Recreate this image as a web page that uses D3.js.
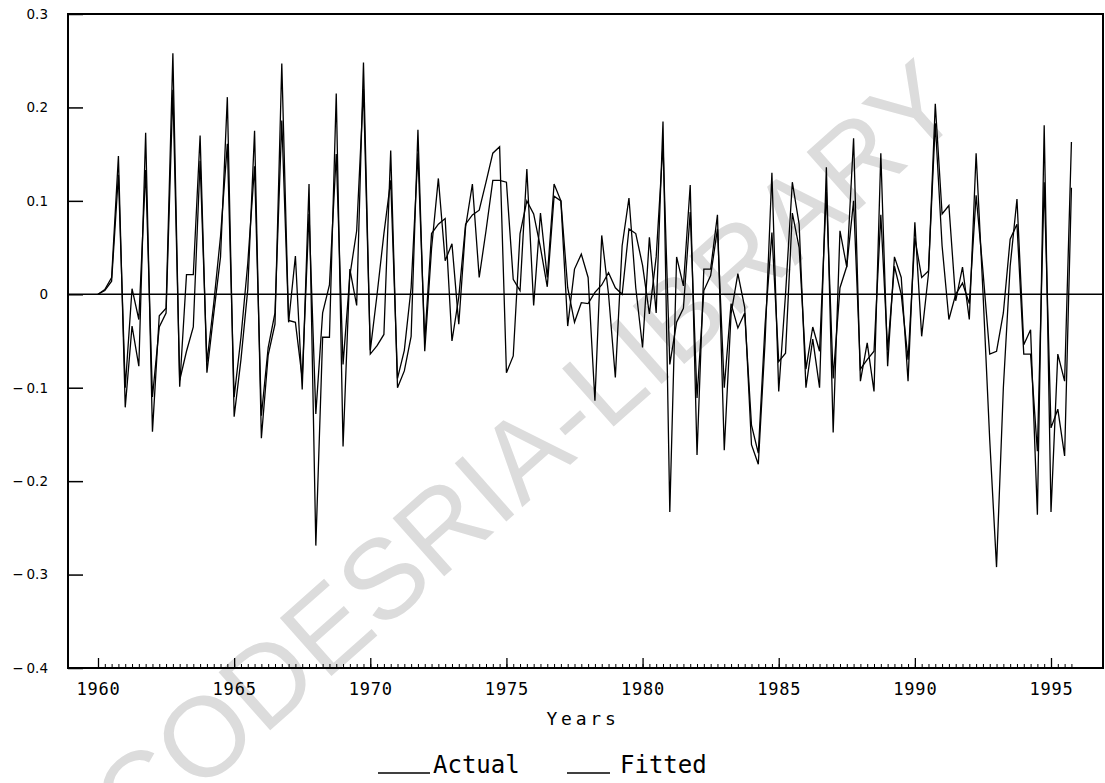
<!DOCTYPE html>
<html lang="en">
<head>
<meta charset="UTF-8">
<title>Actual and Fitted</title>
<script src="https://cdnjs.cloudflare.com/ajax/libs/d3/7.8.5/d3.min.js"></script>
<style>
    body { margin: 0; background: #fff; }
    svg { display: block; font-family: 'DejaVu Sans Mono', monospace; }
    .watermark { font-family: 'Liberation Sans', Arial, sans-serif; }
</style>
</head>
<body>
<div id="chart"></div>
<script>
// quarterly series, first value is 1960 Q1
const startYear = 1960;
const actual = [
    0, 0.005, 0.018, 0.148,          // 1960
    -0.121, -0.034, -0.077, 0.173,   // 1961
    -0.147, -0.023, -0.015, 0.258,   // 1962
    -0.099, 0.021, 0.021, 0.170,     // 1963
    -0.084, -0.021, 0.040, 0.211,    // 1964
    -0.131, -0.070, 0.005, 0.175,    // 1965
    -0.154, -0.065, -0.032, 0.247,   // 1966
    -0.030, 0.041, -0.102, 0.118,    // 1967
    -0.269, -0.046, -0.046, 0.215,   // 1968
    -0.163, 0.027, -0.012, 0.248,    // 1969
    -0.064, -0.055, -0.043, 0.154,   // 1970
    -0.100, -0.082, -0.045, 0.176,   // 1971
    -0.061, 0.049, 0.124, 0.036,     // 1972
    0.054, -0.032, 0.072, 0.118,     // 1973
    0.018, 0.068, 0.122, 0.122,      // 1974
    0.120, 0.016, 0.004, 0.134,      // 1975
    -0.012, 0.087, 0.018, 0.118,     // 1976
    0.100, -0.034, 0.027, 0.043,     // 1977
    0.018, -0.114, 0.063, 0.000,     // 1978
    -0.089, 0.052, 0.103, 0.007,     // 1979
    -0.057, 0.061, -0.020, 0.185,    // 1980
    -0.233, 0.040, 0.009, 0.117,     // 1981
    -0.172, 0.027, 0.027, 0.085,     // 1982
    -0.167, -0.021, 0.022, -0.014,   // 1983
    -0.161, -0.182, -0.050, 0.130,   // 1984
    -0.104, 0.000, 0.120, 0.075,     // 1985
    -0.100, -0.048, -0.100, 0.136,   // 1986
    -0.148, 0.068, 0.029, 0.167,     // 1987
    -0.093, -0.052, -0.104, 0.151,   // 1988
    -0.077, 0.040, 0.018, -0.093,    // 1989
    0.077, -0.045, 0.022, 0.204,     // 1990
    0.086, 0.095, -0.007, 0.029,     // 1991
    -0.027, 0.151, 0.003, -0.156,    // 1992
    -0.292, -0.100, 0.030, 0.102,    // 1993
    -0.054, -0.038, -0.236, 0.181,   // 1994
    -0.233, -0.064, -0.093, 0.163    // 1995
];
const fitted = [
    0, 0.004, 0.014, 0.128,
    -0.100, 0.006, -0.027, 0.133,
    -0.110, -0.035, -0.020, 0.219,
    -0.092, -0.061, -0.035, 0.143,
    -0.073, -0.010, 0.062, 0.161,
    -0.110, -0.046, 0.033, 0.137,
    -0.130, -0.057, -0.020, 0.186,
    -0.028, -0.030, -0.090, 0.086,
    -0.128, -0.020, 0.010, 0.150,
    -0.075, 0.020, 0.068, 0.220,
    -0.060, 0.000, 0.065, 0.122,
    -0.090, -0.060, 0.007, 0.151,
    -0.050, 0.065, 0.075, 0.081,
    -0.050, -0.003, 0.075, 0.085,
    0.090, 0.120, 0.151, 0.158,
    -0.084, -0.066, 0.065, 0.100,
    0.086, 0.050, 0.008, 0.105,
    0.100, 0.007, -0.030, -0.009,
    -0.010, 0.002, 0.010, 0.023,
    0.007, 0.000, 0.070, 0.065,
    0.031, -0.021, 0.040, 0.160,
    -0.075, -0.030, -0.015, 0.088,
    -0.111, 0.004, 0.020, 0.070,
    -0.100, -0.010, -0.036, -0.020,
    -0.140, -0.170, -0.032, 0.066,
    -0.072, -0.063, 0.087, 0.050,
    -0.080, -0.035, -0.061, 0.110,
    -0.090, 0.007, 0.030, 0.100,
    -0.080, -0.070, -0.061, 0.085,
    -0.060, 0.030, 0.000, -0.070,
    0.060, 0.018, 0.025, 0.183,
    0.052, -0.027, 0.000, 0.012,
    -0.010, 0.106, 0.025, -0.064,
    -0.061, -0.020, 0.059, 0.075,
    -0.064, -0.064, -0.168, 0.120,
    -0.143, -0.123, -0.173, 0.114
];
const yTicks = [-0.4, -0.3, -0.2, -0.1, 0, 0.1, 0.2, 0.3];
const xTicks = [1960, 1965, 1970, 1975, 1980, 1985, 1990, 1995];
const xTitle = "Years";
const legendLabels = ["Actual", "Fitted"];
const watermarkText = "CODESRIA-LIBRARY";

const w = 1105, h = 783;
const plotLeft = 68, plotRight = 1103, plotTop = 14, plotBottom = 668;

const x = d3.scaleLinear().domain([1960, 1995]).range([98, 1051]);
const y = d3.scaleLinear().domain([-0.4, 0.3]).range([plotBottom, plotTop]);

const svg = d3.select("#chart").append("svg")
    .attr("width", w)
    .attr("height", h);

// faint library stamp across the page
svg.append("text")
    .attr("class", "watermark")
    .attr("transform", "translate(526,452) rotate(-41.5)")
    .attr("text-anchor", "middle")
    .attr("dominant-baseline", "central")
    .attr("font-size", 113)
    .attr("fill", "#dcdcdc")
    .text(watermarkText);

// plot frame
svg.append("rect")
    .attr("x", plotLeft)
    .attr("y", plotTop)
    .attr("width", plotRight - plotLeft)
    .attr("height", plotBottom - plotTop)
    .attr("fill", "none")
    .attr("stroke", "#000")
    .attr("stroke-width", 2);

// y axis, ticks pointing into the plot
const yAxis = d3.axisLeft(y)
    .tickValues(yTicks)
    .tickSizeInner(-15)
    .tickSizeOuter(0)
    .tickPadding(20)
    .tickFormat(d => d === 0 ? "0" : d.toFixed(1));

svg.append("g")
    .attr("transform", "translate(" + plotLeft + ",0)")
    .call(yAxis)
    .call(g => g.select(".domain").remove())
    .call(g => g.selectAll("line").attr("stroke-width", 1.5))
    .call(g => g.selectAll("text")
        .attr("font-size", 13.5)
        .attr("fill", "#000")
        .attr("font-family", "'DejaVu Sans', sans-serif")
        .each(function(d) {
            // plotter style: a long minus that stands a little apart
            if (d < 0) {
                const t = d3.select(this).text(null);
                t.append("tspan").attr("letter-spacing", 3).text("\u2212");
                t.append("tspan").text(Math.abs(d).toFixed(1));
            }
        }));

// quarterly minor ticks along the bottom
const quarters = d3.range(0, 144).map(i => startYear + i / 4);
svg.append("g")
    .attr("transform", "translate(0," + plotBottom + ")")
    .call(d3.axisBottom(x).tickValues(quarters).tickSizeInner(-4).tickSizeOuter(0).tickFormat(""))
    .call(g => g.select(".domain").remove())
    .call(g => g.selectAll("line").attr("stroke-width", 1));

const xAxis = d3.axisBottom(x)
    .tickValues(xTicks)
    .tickSizeInner(-10)
    .tickSizeOuter(0)
    .tickPadding(15)
    .tickFormat(d3.format("d"));

svg.append("g")
    .attr("transform", "translate(0," + plotBottom + ")")
    .call(xAxis)
    .call(g => g.select(".domain").remove())
    .call(g => g.selectAll("line").attr("stroke-width", 1.3))
    .call(g => g.selectAll("text")
        .attr("font-size", 17)
        .attr("letter-spacing", 0.8)
        .attr("fill", "#000")
        .attr("font-family", "'DejaVu Sans Mono', monospace"));

svg.append("text")
    .attr("x", 583)
    .attr("y", 725)
    .attr("text-anchor", "middle")
    .attr("font-size", 18)
    .attr("letter-spacing", 3.8)
    .text(xTitle);

// zero reference line
svg.append("line")
    .attr("x1", plotLeft)
    .attr("x2", plotRight)
    .attr("y1", y(0))
    .attr("y2", y(0))
    .attr("stroke", "#000")
    .attr("stroke-width", 1.5);

const line = d3.line()
    .x((d, i) => x(startYear + i / 4))
    .y(d => y(d));

[fitted, actual].forEach(series => {
    svg.append("path")
        .datum(series)
        .attr("d", line)
        .attr("fill", "none")
        .attr("stroke", "#000")
        .attr("stroke-width", 1.3)
        .attr("stroke-linejoin", "miter");
});

// legend
const legendPos = [{x1: 378, x2: 430, tx: 433}, {x1: 567, x2: 610, tx: 620}];
const legendY = 773;
legendLabels.forEach((label, i) => {
    svg.append("line")
        .attr("x1", legendPos[i].x1)
        .attr("x2", legendPos[i].x2)
        .attr("y1", legendY)
        .attr("y2", legendY)
        .attr("stroke", "#000")
        .attr("stroke-width", 1.5);
    svg.append("text")
        .attr("x", legendPos[i].tx)
        .attr("y", legendY)
        .attr("font-size", 24)
        .text(label);
});
</script>
</body>
</html>
